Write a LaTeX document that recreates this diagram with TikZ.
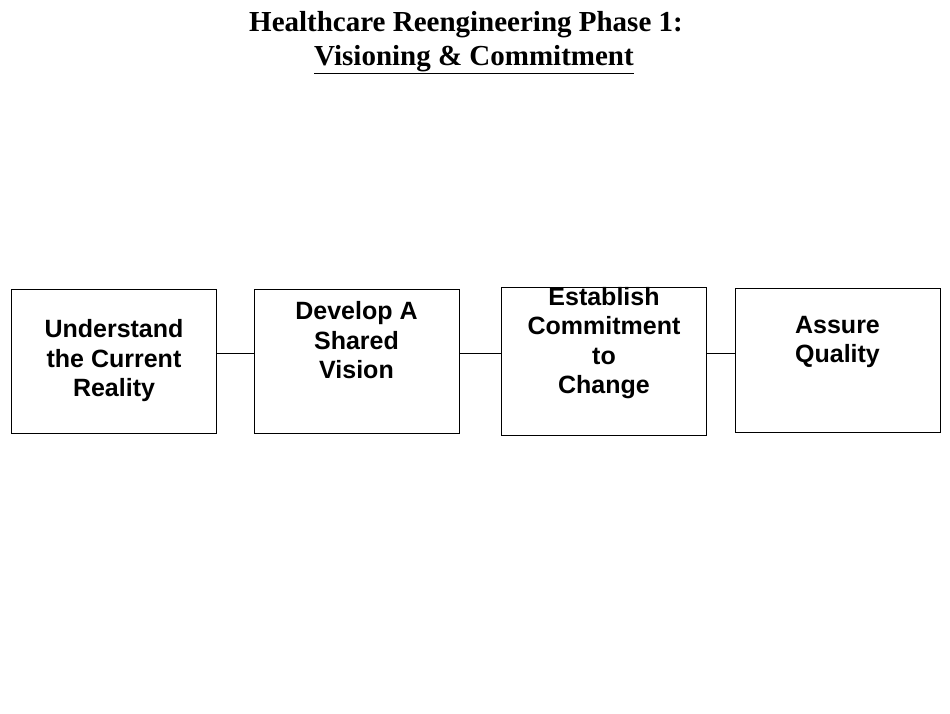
\documentclass[tikz,border=0pt]{standalone}
\usepackage{fontspec}
\setmainfont{Liberation Serif}
\newfontfamily\boxfont{Liberation Sans}
\begin{document}
\begin{tikzpicture}[x=1pt,y=-1pt]
\tikzstyle{stage}=[draw=black, minimum width=205pt, minimum height=144pt, inner sep=0pt,
  align=center, font=\boxfont\bfseries\fontsize{25}{29.5}\selectfont]
\useasboundingbox (0,0) rectangle (950,713);

% Title
\node at (466,25) [font=\bfseries\fontsize{29}{34}\selectfont] (title) {Healthcare Reengineering Phase 1:};
\node at (474,60) [font=\bfseries\fontsize{29}{34}\selectfont] (subtitle) {\underline{Visioning \& Commitment}};

% Stages
\node at (114,361) [stage] (understand) {Understand\\the Current\\Reality};
\node at (356.5,361) [stage] (develop) {Develop A\\Shared\\Vision\\[12pt]};
\node at (604,361) [stage] (establish) {Establish\\Commitment\\to\\Change\\[12pt]};
\node at (837.5,360) [stage] (assure) {Assure\\Quality\\[12pt]};

% Links
\draw (understand.east |- 0,353) -- (develop.west |- 0,353);
\draw (develop.east |- 0,353) -- (establish.west |- 0,353);
\draw (establish.east |- 0,353) -- (assure.west |- 0,353);
\end{tikzpicture}
\end{document}
